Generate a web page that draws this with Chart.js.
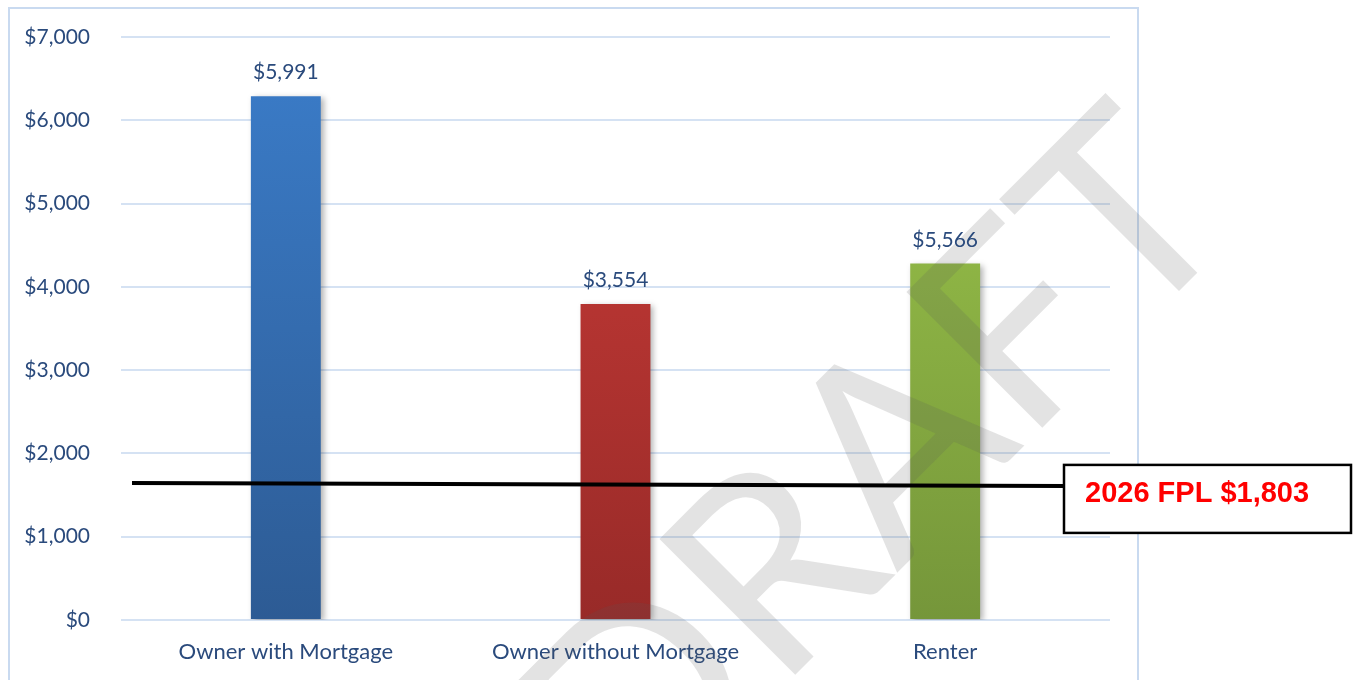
<!DOCTYPE html>
<html>
<head>
<meta charset="utf-8">
<script src="https://cdn.jsdelivr.net/npm/chart.js@4.4.0/dist/chart.umd.min.js"></script>
<style>
  html, body { margin: 0; padding: 0; background: #fff; }
  #wrap { width: 1357px; height: 680px; }
</style>
</head>
<body>
<div id="wrap"><canvas id="myChart"></canvas></div>
<script>
// values (bar heights) and the printed labels above them
const categories = ['Owner with Mortgage', 'Owner without Mortgage', 'Renter']
const barValues = [6290, 3795, 4280]
const barLabels = ['$5,991', '$3,554', '$5,566']
const yTicks = [0, 1000, 2000, 3000, 4000, 5000, 6000, 7000]
// FPL reference line (left end, right end) and its callout text
const fplLine = [1645, 1610]
const fplText = '2026 FPL $1,803'
const watermark = 'DRAFT'

const topColors = ['#3b7dca', '#cd3d39', '#9dc74b']
const bottomColors = ['#2d5b94', '#982a28', '#75963a']
const textBlue = '#2a4a7c'

const ctx = document.getElementById('myChart').getContext('2d')

function barGradient(context) {
    const chart = context.chart
    const area = chart.chartArea
    if (!area) return topColors[context.dataIndex]
    const g = chart.ctx.createLinearGradient(0, area.top, 0, area.bottom)
    g.addColorStop(0, topColors[context.dataIndex])
    g.addColorStop(1, bottomColors[context.dataIndex])
    return g
}

const extras = {
    id: 'extras',
    beforeDraw(chart) {
        const c = chart.ctx
        c.save()
        c.strokeStyle = '#c9daf0'
        c.lineWidth = 2
        c.strokeRect(9, 8, 1129, 700)
        c.restore()
    },
    beforeDatasetsDraw(chart) {
        const c = chart.ctx
        c.save()
        c.shadowColor = 'rgba(0,0,0,0.3)'
        c.shadowBlur = 6
        c.shadowOffsetX = 3
        c.shadowOffsetY = 2
    },
    afterDatasetsDraw(chart) {
        const c = chart.ctx
        c.restore()

        // watermark
        c.save()
        c.translate(1244, 226)
        c.rotate(-45 * Math.PI / 180)
        c.font = '268px Lato'
        c.textAlign = 'right'
        c.textBaseline = 'alphabetic'
        c.fillStyle = 'rgba(90,90,90,0.17)'
        c.fillText(watermark, 0, 0)
        c.restore()

        // value labels
        const meta = chart.getDatasetMeta(0)
        c.save()
        c.font = '21px Lato'
        c.fillStyle = textBlue
        c.textAlign = 'center'
        c.textBaseline = 'bottom'
        meta.data.forEach((bar, i) => {
            c.fillText(barLabels[i], bar.x, bar.y - 13)
        })
        c.restore()

        // FPL line + callout box
        const y = chart.scales.y
        const area = chart.chartArea
        const x0 = area.left + 11
        const boxX = 1064
        const y0 = y.getPixelForValue(fplLine[0])
        const y1 = y.getPixelForValue(fplLine[1])
        c.save()
        c.strokeStyle = '#000'
        c.lineWidth = 4
        c.beginPath()
        c.moveTo(x0, y0)
        c.lineTo(boxX, y1)
        c.stroke()

        const boxY = y1 - 21
        c.fillStyle = '#fff'
        c.fillRect(boxX, boxY, 287, 68)
        c.lineWidth = 2.5
        c.strokeRect(boxX, boxY, 287, 68)
        c.font = 'bold 29px "Liberation Sans"'
        c.fillStyle = '#ff0000'
        c.textAlign = 'left'
        c.textBaseline = 'middle'
        c.fillText(fplText, boxX + 21, boxY + 29)
        c.restore()
    }
}

const myChart = new Chart(ctx, {
    type: 'bar',
    data: {
        labels: categories,
        datasets: [{
            data: barValues,
            backgroundColor: barGradient,
            borderWidth: 0,
            categoryPercentage: 1,
            barPercentage: 0.212
        }]
    },
    options: {
        responsive: true,
        maintainAspectRatio: false,
        animation: false,
        events: [],
        layout: { padding: { top: 37, right: 247, bottom: 0, left: 0 } },
        plugins: {
            legend: { display: false },
            tooltip: { enabled: false }
        },
        scales: {
            x: {
                grid: { display: false },
                border: { display: false },
                ticks: {
                    color: textBlue,
                    font: { family: 'Lato', size: 22 },
                    padding: 11,
                    maxRotation: 0
                },
                afterFit(scale) {
                    scale.height = 60
                    scale.paddingLeft = 0
                    scale.paddingRight = 0
                }
            },
            y: {
                min: 0,
                max: 7000,
                afterBuildTicks(scale) {
                    scale.ticks = yTicks.map(v => ({ value: v }))
                },
                grid: { color: '#d5e2f3', lineWidth: 2, drawTicks: false },
                border: { display: false },
                ticks: {
                    color: textBlue,
                    font: { family: 'Lato', size: 21 },
                    padding: 31,
                    callback: v => '$' + v.toLocaleString('en-US')
                },
                afterFit(scale) {
                    scale.width = 121
                    scale.paddingTop = 0
                    scale.paddingBottom = 0
                }
            }
        }
    },
    plugins: [extras]
});
</script>
</body>
</html>
